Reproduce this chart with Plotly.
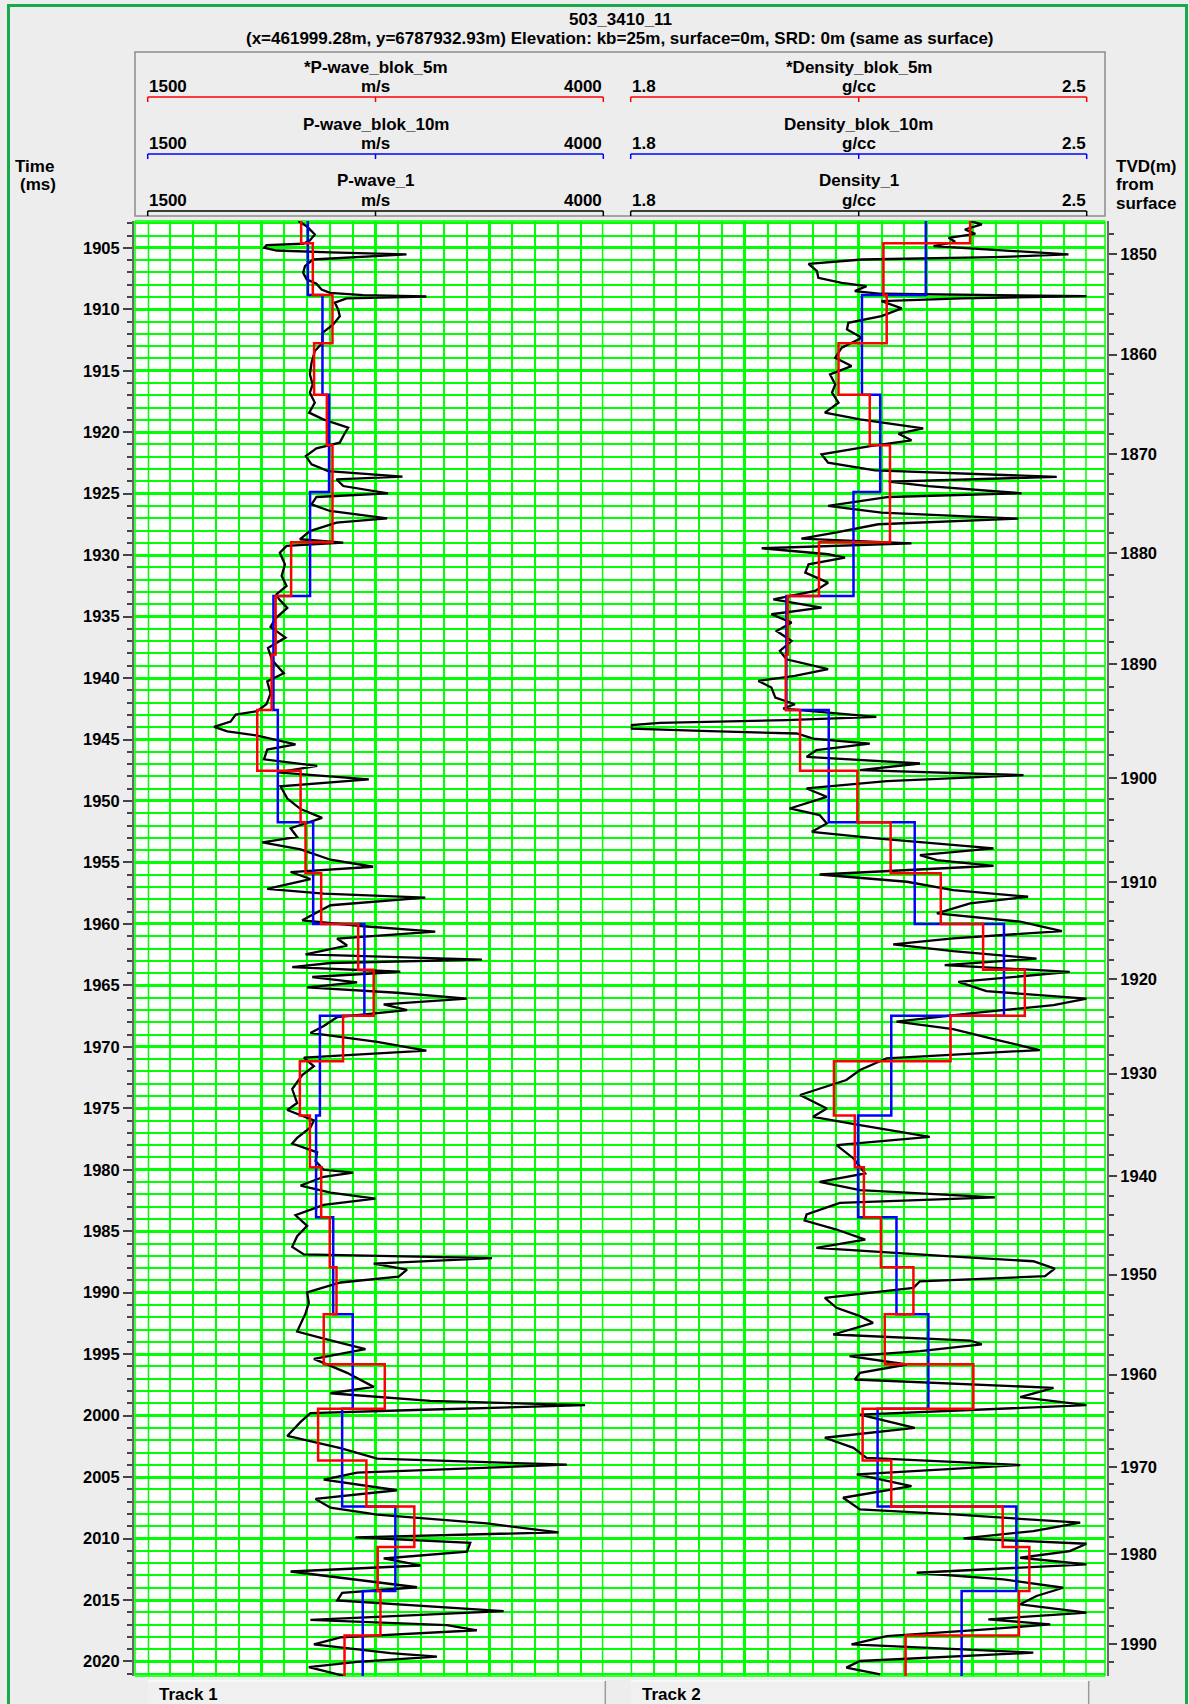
import numpy as np
import plotly.graph_objects as go

W, H = 1189, 1704
FONT = "Liberation Sans, Arial, Helvetica, sans-serif"
GREEN = "#00ff00"
FRAME_GREEN = "#19a84c"
AXIS_GRAY = "#6a6a6a"
PANEL_GRAY = "#8c8c8c"
BG = "#ededed"
RED, BLUE, BLACK = "#ff0000", "#0000ff", "#000000"

T_TOP, T_BOT = 1902.82, 2021.18

WELL_NAME = "503_3410_11"
WELL_INFO = "(x=461999.28m, y=6787932.93m) Elevation: kb=25m, surface=0m, SRD: 0m (same as surface)"

# P-wave_1 log samples: (two-way time ms, velocity m/s)
PWAVE_1 = [
    (1902.83, 2326), (1903.24, 2372), (1903.64, 2399), (1903.92, 2417), (1904.40, 2390), (1904.67, 2353),
    (1904.78, 2152), (1905.00, 2140), (1905.22, 2207), (1905.38, 2500), (1905.54, 2920), (1905.73, 2682),
    (1905.95, 2408), (1906.49, 2363), (1907.03, 2353), (1907.57, 2372), (1907.93, 2426), (1908.39, 2454),
    (1908.66, 2500), (1908.85, 2682), (1908.96, 3029), (1909.12, 2591), (1909.47, 2527), (1910.01, 2545),
    (1910.56, 2554), (1911.23, 2518), (1911.91, 2459), (1912.72, 2459), (1913.40, 2417), (1914.35, 2399),
    (1915.30, 2390), (1916.11, 2405), (1916.79, 2390), (1917.60, 2417), (1918.41, 2386), (1918.96, 2463),
    (1919.63, 2600), (1920.31, 2573), (1920.85, 2554), (1921.31, 2426), (1921.94, 2368), (1922.62, 2399),
    (1923.16, 2490), (1923.62, 2898), (1923.83, 2536), (1924.38, 2573), (1924.97, 2819), (1925.27, 2426),
    (1925.87, 2399), (1926.41, 2500), (1927.01, 2814), (1927.36, 2536), (1928.04, 2390), (1928.71, 2335),
    (1928.98, 2573), (1929.25, 2262), (1929.80, 2225), (1930.74, 2253), (1931.69, 2235), (1932.51, 2262),
    (1933.18, 2207), (1933.58, 2220), (1934.29, 2266), (1935.14, 2202), (1935.85, 2174), (1936.71, 2256),
    (1937.56, 2160), (1938.56, 2183), (1939.61, 2247), (1940.27, 2156), (1941.26, 2174), (1942.12, 2152),
    (1942.69, 2101), (1942.97, 1983), (1943.54, 1955), (1943.97, 1864), (1944.34, 1937), (1944.68, 2101),
    (1945.39, 2311), (1945.82, 2156), (1946.61, 2138), (1947.15, 2430), (1947.67, 2211), (1948.24, 2713),
    (1948.81, 2229), (1949.80, 2266), (1950.66, 2339), (1951.37, 2457), (1952.22, 2284), (1952.93, 2320),
    (1953.36, 2129), (1953.93, 2339), (1954.78, 2503), (1955.35, 2737), (1955.78, 2284), (1956.35, 2393),
    (1957.15, 2156), (1957.54, 2466), (1957.86, 3023), (1958.48, 2503), (1959.05, 2430), (1959.71, 2348),
    (1960.19, 2686), (1960.62, 3078), (1961.19, 2539), (1961.76, 2594), (1962.47, 2366), (1962.90, 3334),
    (1963.18, 2503), (1963.52, 2293), (1963.89, 2886), (1964.32, 2403), (1964.75, 2649), (1965.17, 2375),
    (1965.60, 2868), (1966.08, 3252), (1966.54, 2795), (1967.02, 2923), (1967.59, 2539), (1968.30, 2466),
    (1968.87, 2393), (1969.59, 2759), (1970.30, 3029), (1970.87, 2357), (1971.58, 2412), (1972.29, 2348),
    (1973.43, 2293), (1974.57, 2320), (1975.14, 2266), (1975.99, 2412), (1976.56, 2393), (1977.41, 2320),
    (1977.86, 2293), (1978.58, 2430), (1979.29, 2421), (1980.00, 2466), (1980.23, 2627), (1980.57, 2466),
    (1981.28, 2339), (1981.85, 2503), (1982.34, 2749), (1982.85, 2466), (1983.70, 2311), (1984.56, 2375),
    (1985.41, 2320), (1986.27, 2293), (1986.89, 2357), (1987.18, 3389), (1987.64, 2740), (1988.12, 2923),
    (1988.69, 2877), (1989.17, 2558), (1989.97, 2375), (1990.83, 2384), (1991.68, 2366), (1992.54, 2339),
    (1993.16, 2320), (1993.73, 2466), (1994.59, 2695), (1995.38, 2412), (1996.52, 2594), (1997.66, 2740),
    (1998.18, 2503), (1998.80, 3051), (1999.15, 3900), (1999.52, 3014), (1999.80, 2393), (2000.51, 2339),
    (2001.65, 2266), (2002.65, 2558), (2003.50, 2759), (2003.99, 3800), (2004.64, 2649), (2005.21, 2466),
    (2006.07, 2868), (2006.78, 2421), (2007.49, 2503), (2008.06, 2759), (2008.77, 3361), (2009.49, 3754),
    (2009.91, 2640), (2010.34, 3270), (2011.06, 3252), (2011.62, 2795), (2012.19, 2996), (2012.68, 2284),
    (2013.33, 2631), (2013.96, 2978), (2014.42, 2567), (2015.04, 2540), (2015.90, 3453), (2016.61, 2393),
    (2017.04, 3142), (2017.46, 3306), (2018.03, 2558), (2018.60, 2412), (2019.32, 2832), (2019.60, 3087),
    (2020.03, 2649), (2020.46, 2384), (2021.17, 2576),
]

# Density_1 log samples: (two-way time ms, density g/cc)
DENSITY_1 = [
    (1902.83, 2.321), (1903.10, 2.339), (1903.51, 2.313), (1903.86, 2.329), (1904.19, 2.288), (1904.51, 2.298),
    (1904.86, 2.265), (1905.22, 2.370), (1905.54, 2.472), (1905.76, 2.359), (1905.95, 2.155), (1906.30, 2.073),
    (1906.90, 2.086), (1907.44, 2.088), (1907.85, 2.124), (1908.12, 2.162), (1908.52, 2.144), (1908.74, 2.185),
    (1908.93, 2.500), (1909.12, 2.308), (1909.34, 2.185), (1909.93, 2.216), (1910.56, 2.185), (1911.10, 2.134),
    (1911.64, 2.132), (1912.32, 2.155), (1913.13, 2.124), (1913.94, 2.114), (1914.62, 2.139), (1915.30, 2.106),
    (1916.11, 2.114), (1916.79, 2.109), (1917.60, 2.119), (1918.41, 2.098), (1918.96, 2.152), (1919.69, 2.249),
    (1920.12, 2.211), (1920.66, 2.231), (1921.12, 2.170), (1921.80, 2.093), (1922.48, 2.103), (1923.10, 2.175),
    (1923.64, 2.454), (1924.02, 2.196), (1924.38, 2.257), (1924.97, 2.400), (1925.27, 2.196), (1926.00, 2.103),
    (1926.54, 2.185), (1927.03, 2.395), (1927.49, 2.180), (1928.17, 2.114), (1928.66, 2.062), (1929.04, 2.231),
    (1929.44, 2.001), (1929.93, 2.103), (1930.20, 2.129), (1930.75, 2.073), (1931.42, 2.068), (1932.24, 2.103),
    (1932.91, 2.083), (1933.59, 2.019), (1934.27, 2.093), (1934.81, 2.016), (1935.49, 2.047), (1936.17, 2.024),
    (1936.98, 2.047), (1937.79, 2.029), (1938.47, 2.039), (1939.28, 2.103), (1939.82, 2.052), (1940.23, 1.996),
    (1940.77, 2.016), (1941.59, 2.022), (1942.13, 2.052), (1942.48, 2.034), (1943.16, 2.177), (1943.43, 2.039),
    (1943.64, 1.845), (1943.83, 1.801), (1944.11, 1.801), (1944.32, 1.921), (1944.51, 2.055), (1944.92, 2.080),
    (1945.33, 2.167), (1945.87, 2.085), (1946.41, 2.070), (1946.95, 2.244), (1947.49, 2.152), (1947.90, 2.403),
    (1948.39, 2.193), (1948.98, 2.070), (1949.66, 2.101), (1950.61, 2.044), (1951.15, 2.090), (1951.83, 2.101),
    (1952.51, 2.078), (1953.05, 2.177), (1953.86, 2.357), (1954.40, 2.244), (1954.81, 2.270), (1955.27, 2.357),
    (1955.98, 2.090), (1956.57, 2.224), (1957.25, 2.295), (1957.79, 2.410), (1958.33, 2.321), (1959.15, 2.270),
    (1959.82, 2.398), (1960.58, 2.462), (1961.18, 2.295), (1961.67, 2.203), (1962.22, 2.295), (1962.82, 2.423),
    (1963.35, 2.282), (1963.90, 2.474), (1964.72, 2.303), (1965.47, 2.346), (1966.07, 2.500), (1966.60, 2.449),
    (1967.28, 2.321), (1967.95, 2.208), (1968.55, 2.295), (1969.44, 2.362), (1970.26, 2.428), (1970.93, 2.193),
    (1971.88, 2.152), (1972.70, 2.131), (1973.92, 2.060), (1975.01, 2.101), (1975.69, 2.080), (1976.37, 2.152),
    (1977.32, 2.259), (1978.00, 2.116), (1979.08, 2.142), (1980.30, 2.160), (1980.98, 2.090), (1981.66, 2.152),
    (1982.24, 2.359), (1982.70, 2.121), (1983.64, 2.070), (1984.13, 2.067), (1984.86, 2.116), (1985.68, 2.160),
    (1986.36, 2.085), (1987.03, 2.285), (1987.44, 2.418), (1988.04, 2.451), (1988.66, 2.436), (1989.07, 2.244),
    (1989.61, 2.234), (1990.42, 2.098), (1991.23, 2.116), (1991.91, 2.152), (1992.45, 2.172), (1993.40, 2.111),
    (1993.89, 2.321), (1994.21, 2.339), (1994.76, 2.244), (1995.16, 2.136), (1995.84, 2.224), (1996.52, 2.152),
    (1997.06, 2.144), (1997.74, 2.449), (1998.50, 2.398), (1999.15, 2.500), (1999.91, 2.152), (2000.99, 2.236),
    (2001.80, 2.098), (2002.62, 2.142), (2003.43, 2.162), (2004.02, 2.398), (2004.78, 2.147), (2005.73, 2.231),
    (2006.68, 2.126), (2007.63, 2.152), (2008.04, 2.295), (2008.71, 2.490), (2009.39, 2.418), (2009.99, 2.311),
    (2010.42, 2.500), (2011.02, 2.474), (2011.56, 2.398), (2012.10, 2.500), (2012.78, 2.239), (2013.32, 2.372),
    (2014.00, 2.464), (2014.67, 2.423), (2015.35, 2.398), (2016.03, 2.500), (2016.57, 2.349), (2016.98, 2.444),
    (2017.38, 2.346), (2017.93, 2.193), (2018.60, 2.139), (2019.28, 2.418), (2019.96, 2.152), (2020.50, 2.131),
    (2021.04, 2.183),
]

# 5 m blocked logs: block boundaries (ms) and one value per block
BLOCK_5M_TOPS = [1902.80, 1904.63, 1908.83, 1912.76, 1916.95, 1921.07, 1928.95, 1933.32, 1938.08, 1942.60,
                 1947.54, 1951.72, 1955.87, 1960.00, 1963.72, 1967.48, 1971.18, 1975.58, 1979.79, 1983.86,
                 1987.93, 1991.76, 1995.83, 1999.45, 2003.65, 2007.39, 2010.69, 2014.27, 2017.88, 2021.20]
PWAVE_BLOK_5M = [2342, 2406, 2514, 2413, 2483, 2514, 2287, 2202, 2180, 2101, 2339, 2366, 2452, 2655, 2740,
                 2572, 2335, 2390, 2452, 2499, 2536, 2466, 2801, 2435, 2700, 2963, 2762, 2777, 2580]
DENSITY_BLOK_5M = [2.321, 2.188, 2.193, 2.119, 2.167, 2.198, 2.089, 2.041, 2.038, 2.060, 2.148, 2.199, 2.276,
                   2.341, 2.405, 2.291, 2.112, 2.144, 2.158, 2.184, 2.234, 2.190, 2.326, 2.156, 2.200, 2.371,
                   2.412, 2.396, 2.222]

# 10 m blocked logs
BLOCK_10M_TOPS = [1902.80, 1908.83, 1916.95, 1924.87, 1933.32, 1942.60, 1951.72, 1960.00, 1967.48, 1975.58,
                  1983.86, 1991.76, 1999.45, 2007.39, 2014.27, 2021.20]
PWAVE_BLOK_10M = [2379, 2459, 2495, 2391, 2190, 2214, 2408, 2689, 2445, 2424, 2518, 2625, 2567, 2859, 2680]
DENSITY_BLOK_10M = [2.253, 2.155, 2.183, 2.142, 2.039, 2.104, 2.236, 2.373, 2.200, 2.149, 2.208, 2.257,
                    2.179, 2.392, 2.308]

# TVD (m from surface) against two-way time (ms)
TVD_LABELS = [1850, 1860, 1870, 1880, 1890, 1900, 1910, 1920, 1930, 1940, 1950, 1960, 1970, 1980, 1990]
TVD_LABEL_TIMES = [1905.53, 1913.68, 1921.80, 1929.83, 1938.86, 1948.14, 1956.62, 1964.49, 1972.18,
                   1980.49, 1988.53, 1996.66, 2004.18, 2011.25, 2018.59]

TRACKS = [
    dict(title="Track 1", axis="x2", unit="m/s", lo=1500, hi=4000, lo_txt="1500", hi_txt="4000",
         left=147.7, right=603.3, major=625, minor=125,
         curves=["*P-wave_blok_5m", "P-wave_blok_10m", "P-wave_1"]),
    dict(title="Track 2", axis="x3", unit="g/cc", lo=1.8, hi=2.5, lo_txt="1.8", hi_txt="2.5",
         left=630.7, right=1086.7, major=0.175, minor=0.035,
         curves=["*Density_blok_5m", "Density_blok_10m", "Density_1"]),
]
CURVE_COLORS = [RED, BLUE, BLACK]

# plotting frame in page pixels
GRID_L, GRID_R, GRID_T, GRID_B = 135, 1105, 221, 1676


def px(x):
    return x / W


def py(y):
    return 1 - y / H


def steps(tops, vals):
    xs, ys = [], []
    for i, v in enumerate(vals):
        xs += [v, v]
        ys += [tops[i], tops[i + 1]]
    return xs, ys


fig = go.Figure()

# invisible anchors for the frame subplot and the TVD overlay axis
for yref in ("y", "y2"):
    fig.add_trace(go.Scatter(x=[0.5], y=[1950], xaxis="x", yaxis=yref, mode="markers",
                             marker=dict(opacity=0), hoverinfo="skip", showlegend=False))

logs = {"x2": (PWAVE_1, PWAVE_BLOK_10M, PWAVE_BLOK_5M), "x3": (DENSITY_1, DENSITY_BLOK_10M, DENSITY_BLOK_5M)}
for ax, (raw, blk10, blk5) in logs.items():
    t, v = zip(*raw)
    fig.add_trace(go.Scatter(x=list(v), y=list(t), xaxis=ax, yaxis="y", mode="lines",
                             line=dict(color=BLACK, width=2.3), hoverinfo="skip", showlegend=False))
    bx, by = steps(BLOCK_10M_TOPS, blk10)
    fig.add_trace(go.Scatter(x=bx, y=by, xaxis=ax, yaxis="y", mode="lines",
                             line=dict(color=BLUE, width=2.5), hoverinfo="skip", showlegend=False))
    rx, ry = steps(BLOCK_5M_TOPS, blk5)
    fig.add_trace(go.Scatter(x=rx, y=ry, xaxis=ax, yaxis="y", mode="lines",
                             line=dict(color=RED, width=2.5), hoverinfo="skip", showlegend=False))

shapes = []
# outer frame
shapes.append(dict(type="rect", xref="paper", yref="paper", x0=px(8.5), x1=px(1186.5), y0=py(1712), y1=py(5.5),
                   line=dict(color=FRAME_GREEN, width=3), fillcolor="rgba(0,0,0,0)", layer="above"))
# header panel
shapes.append(dict(type="rect", xref="paper", yref="paper", x0=px(135), x1=px(1105), y0=py(216), y1=py(52),
                   line=dict(color=PANEL_GRAY, width=1.5), fillcolor="rgba(0,0,0,0)", layer="below"))
# white log area
shapes.append(dict(type="rect", xref="paper", yref="paper", x0=px(GRID_L), x1=px(GRID_R), y0=py(GRID_B),
                   y1=py(GRID_T), line=dict(width=0), fillcolor="white", layer="below"))
# frame edges of the log area
for x in (GRID_L, GRID_R):
    shapes.append(dict(type="line", xref="paper", yref="paper", x0=px(x), x1=px(x), y0=py(GRID_B), y1=py(GRID_T),
                       line=dict(color=GREEN, width=1.5), layer="below"))
for y in (GRID_T, GRID_B):
    shapes.append(dict(type="line", xref="paper", yref="paper", x0=px(GRID_L), x1=px(GRID_R), y0=py(y), y1=py(y),
                       line=dict(color=GREEN, width=1.5), layer="below"))

annotations = []


def text(s, x, y, anchor="center", size=17):
    annotations.append(dict(text=s, x=px(x), y=py(y), xref="paper", yref="paper", xanchor=anchor,
                            yanchor="middle", showarrow=False, borderpad=0,
                            font=dict(family=FONT, size=size, color=BLACK, weight="bold")))


text(WELL_NAME, 620, 20)
text(WELL_INFO, 620, 38)
text("Time", 14, 166, "left")
text("(ms)", 19, 185, "left")
text("TVD(m)", 1115, 166, "left")
text("from", 1115, 185, "left")
text("surface", 1115, 204, "left")

for tr in TRACKS:
    mid = (tr["left"] + tr["right"]) / 2
    # thick border lines at the ends of each track scale
    for v in (tr["lo"], tr["hi"]):
        shapes.append(dict(type="line", xref=tr["axis"], yref="paper", x0=v, x1=v, y0=py(GRID_B), y1=py(GRID_T),
                           line=dict(color=GREEN, width=3), layer="below"))
    for j, (name, col) in enumerate(zip(tr["curves"], CURVE_COLORS)):
        yl = 97 + 57 * j
        text(name, mid, 67 + 57 * j)
        text(tr["lo_txt"], tr["left"], 86 + 57 * j, "left")
        text(tr["unit"], mid, 86 + 57 * j)
        text(tr["hi_txt"], tr["right"], 86 + 57 * j, "right")
        shapes.append(dict(type="line", xref="paper", yref="paper", x0=px(tr["left"]), x1=px(tr["right"]),
                           y0=py(yl), y1=py(yl), line=dict(color=col, width=1.5)))
        for xt in (tr["left"], mid, tr["right"]):
            shapes.append(dict(type="line", xref="paper", yref="paper", x0=px(xt), x1=px(xt),
                               y0=py(yl), y1=py(yl + 5), line=dict(color=col, width=1.5)))
    # footer label box
    shapes.append(dict(type="rect", xref="paper", yref="paper", x0=px(tr["left"]), x1=px(tr["right"] + 2),
                       y0=py(1710), y1=py(1681), line=dict(width=0), fillcolor="#f0f0f0", layer="below"))
    shapes.append(dict(type="line", xref="paper", yref="paper", x0=px(tr["left"]), x1=px(tr["right"] + 2),
                       y0=py(1681), y1=py(1681), line=dict(color="#fbfbfb", width=1.5)))
    shapes.append(dict(type="line", xref="paper", yref="paper", x0=px(tr["right"] + 2), x1=px(tr["right"] + 2),
                       y0=py(1710), y1=py(1681), line=dict(color="#9a9a9a", width=1.5)))
    text(tr["title"], tr["left"] + 10, 1694, "left")

# TVD minor ticks every 2 m placed through the TVD/time table
tvd_arr = np.array(TVD_LABELS, dtype=float)
tim_arr = np.array(TVD_LABEL_TIMES)
minor_tvd = np.arange(1848, 1993, 2)
minor_tvd = minor_tvd[minor_tvd % 10 != 0]
minor_times = np.interp(minor_tvd, tvd_arr, tim_arr)
lo_slope = (tim_arr[1] - tim_arr[0]) / 10
hi_slope = (tim_arr[-1] - tim_arr[-2]) / 10
minor_times = np.where(minor_tvd < tvd_arr[0], tim_arr[0] + (minor_tvd - tvd_arr[0]) * lo_slope, minor_times)
minor_times = np.where(minor_tvd > tvd_arr[-1], tim_arr[-1] + (minor_tvd - tvd_arr[-1]) * hi_slope, minor_times)

track_axis_common = dict(anchor="y", showticklabels=False, ticks="", showline=False, zeroline=False,
                         showgrid=True, gridcolor=GREEN, gridwidth=3, tickmode="linear", fixedrange=True)

layout_axes = {}
for tr in TRACKS:
    key = "xaxis2" if tr["axis"] == "x2" else "xaxis3"
    layout_axes[key] = dict(
        domain=[px(tr["left"]), px(tr["right"])], range=[tr["lo"], tr["hi"]],
        tick0=tr["lo"], dtick=tr["major"],
        minor=dict(tickmode="linear", tick0=tr["lo"], dtick=tr["minor"], showgrid=True,
                   gridcolor=GREEN, gridwidth=1.5, ticks=""),
        **track_axis_common)

fig.update_layout(
    width=W, height=H, margin=dict(l=0, r=0, t=0, b=0),
    paper_bgcolor=BG, plot_bgcolor="rgba(0,0,0,0)", showlegend=False,
    font=dict(family=FONT, size=17, color=BLACK),
    xaxis=dict(domain=[px(GRID_L), px(GRID_R)], range=[0, 1], visible=False, fixedrange=True, anchor="y"),
    yaxis=dict(domain=[py(GRID_B), py(GRID_T)], range=[T_BOT, T_TOP], anchor="free", position=px(133),
               side="left", tickmode="linear", tick0=1905, dtick=5, ticks="outside", ticklen=9, tickwidth=2,
               tickcolor="#444444", showline=True, linecolor=AXIS_GRAY, linewidth=2, zeroline=False,
               showgrid=True, gridcolor=GREEN, gridwidth=3, fixedrange=True,
               tickfont=dict(family=FONT, size=16.5, color=BLACK, weight="bold"),
               minor=dict(tickmode="linear", tick0=1905, dtick=1, ticks="outside", ticklen=5, tickwidth=1.5,
                          tickcolor="#444444", showgrid=True, gridcolor=GREEN, gridwidth=1.5)),
    yaxis2=dict(overlaying="y", side="right", anchor="free", position=px(1108), range=[T_BOT, T_TOP],
                tickmode="array", tickvals=TVD_LABEL_TIMES, ticktext=[str(v) for v in TVD_LABELS],
                ticks="outside", ticklen=8, tickwidth=2, tickcolor="#444444", showline=True,
                linecolor=AXIS_GRAY, linewidth=2, showgrid=False, zeroline=False, fixedrange=True,
                tickfont=dict(family=FONT, size=16.5, color=BLACK, weight="bold"),
                minor=dict(tickmode="array", tickvals=minor_times.tolist(), ticks="outside", ticklen=5,
                           tickwidth=1.5, tickcolor="#444444", showgrid=False)),
    shapes=shapes,
    annotations=annotations,
    **layout_axes,
)

fig.write_html("out.html")
